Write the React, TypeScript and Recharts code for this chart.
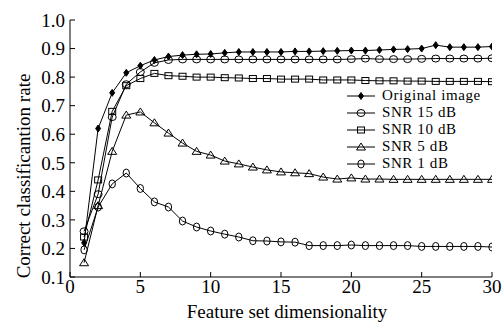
import { Legend, Line, LineChart, XAxis, YAxis } from "recharts";

const dims = [
  1, 2, 3, 4, 5, 6, 7, 8, 9, 10, 11, 12, 13, 14, 15, 16, 17, 18, 19, 20, 21, 22, 23, 24, 25, 26, 27, 28, 29, 30,
];

const original = [
  0.22, 0.62, 0.745, 0.815, 0.84, 0.86, 0.872, 0.877, 0.88, 0.881, 0.885, 0.888, 0.888, 0.888, 0.888, 0.89, 0.89,
  0.891, 0.892, 0.893, 0.893, 0.895, 0.897, 0.898, 0.9, 0.912, 0.905, 0.905, 0.905, 0.907,
];
const snr15 = [
  0.26, 0.39, 0.66, 0.775, 0.818, 0.85, 0.86, 0.862, 0.862, 0.862, 0.862, 0.862, 0.862, 0.862, 0.862, 0.862, 0.862,
  0.862, 0.862, 0.863, 0.865, 0.863, 0.863, 0.863, 0.864, 0.865, 0.865, 0.865, 0.865, 0.866,
];
const snr10 = [
  0.24, 0.44, 0.68, 0.77, 0.795, 0.813, 0.805, 0.803, 0.8, 0.8, 0.798, 0.797, 0.795, 0.795, 0.793, 0.793, 0.793,
  0.79, 0.79, 0.79, 0.788, 0.787, 0.787, 0.786, 0.786, 0.785, 0.785, 0.785, 0.785, 0.784,
];
const snr5 = [
  0.15, 0.35, 0.54, 0.667, 0.678, 0.64, 0.604, 0.569, 0.54, 0.527, 0.506, 0.496, 0.485, 0.475, 0.468, 0.465, 0.462,
  0.45, 0.443, 0.447, 0.443, 0.443, 0.442, 0.442, 0.442, 0.442, 0.442, 0.442, 0.442, 0.442,
];
const snr1 = [
  0.195, 0.345, 0.426, 0.464, 0.41, 0.363, 0.345, 0.296, 0.275, 0.261, 0.25, 0.24, 0.227, 0.226, 0.223, 0.222, 0.21,
  0.21, 0.21, 0.212, 0.21, 0.21, 0.21, 0.21, 0.207, 0.207, 0.207, 0.207, 0.207, 0.205,
];

const xTicks = [0, 5, 10, 15, 20, 25, 30];
const yTicks = [0.1, 0.2, 0.3, 0.4, 0.5, 0.6, 0.7, 0.8, 0.9, 1.0];

const series = [
  { key: "original", name: "Original image", values: original, shape: "star" },
  { key: "snr15", name: "SNR 15 dB", values: snr15, shape: "circle" },
  { key: "snr10", name: "SNR 10 dB", values: snr10, shape: "square" },
  { key: "snr5", name: "SNR 5 dB", values: snr5, shape: "triangle" },
  { key: "snr1", name: "SNR 1 dB", values: snr1, shape: "oval" },
];

const data = dims.map((d, i) => {
  const row: Record<string, number> = { dim: d };
  series.forEach((s) => {
    row[s.key] = s.values[i];
  });
  return row;
});

const FONT = '"Liberation Serif", "Times New Roman", serif';

function Marker({ shape, cx, cy }: { shape: string; cx: number; cy: number }) {
  if (cx == null || cy == null) return null;
  const st = { fill: "none", stroke: "#000", strokeWidth: 1 };
  switch (shape) {
    case "star":
      return (
        <path d={`M${cx},${cy - 3.5}L${cx + 2.5},${cy}L${cx},${cy + 3.5}L${cx - 2.5},${cy}Z`} fill="#000" stroke="#000" />
      );
    case "circle":
      return <ellipse cx={cx} cy={cy} rx={4} ry={3.5} {...st} />;
    case "square":
      return <rect x={cx - 3.5} y={cy - 3} width={7} height={6} {...st} />;
    case "triangle":
      return <path d={`M${cx},${cy - 4}L${cx + 4.5},${cy + 3}L${cx - 4.5},${cy + 3}Z`} {...st} />;
    default:
      return <ellipse cx={cx} cy={cy} rx={3.2} ry={4} {...st} />;
  }
}

const renderLegend = () => (
  <div style={{ fontFamily: FONT, fontSize: 15, color: "#000", lineHeight: "17px" }}>
    {series.map((s) => (
      <div key={s.key} style={{ display: "flex", alignItems: "center", height: 17, whiteSpace: "nowrap" }}>
        <svg width={30} height={12} style={{ display: "block" }}>
          <line x1={1} y1={6} x2={29} y2={6} stroke="#000" strokeWidth={1} />
          <Marker shape={s.shape} cx={15} cy={6} />
        </svg>
        <span style={{ marginLeft: 6, letterSpacing: 0.6 }}>{s.name}</span>
      </div>
    ))}
  </div>
);

const tickStyle = { fontFamily: FONT, fontSize: 19, fill: "#000" };

export default function App() {
  return (
    <div style={{ position: "fixed", left: 0, top: 0, width: 502, height: 323, background: "#fff" }}>
      <LineChart width={502} height={323} data={data} margin={{ top: 20, right: 10, bottom: 6, left: 20 }}>
        <XAxis
          dataKey="dim"
          type="number"
          domain={[0, 30]}
          ticks={xTicks}
          allowDataOverflow
          height={40}
          stroke="#000"
          tickSize={-5}
          tickMargin={8}
          tick={tickStyle}
          label={{
            content: ({ viewBox }: any) => (
              <text
                x={viewBox.x + viewBox.width / 2 + 6}
                y={viewBox.y + 41}
                textAnchor="middle"
                style={{ fontFamily: FONT, fontSize: 19, fill: "#000" }}
              >
                Feature set dimensionality
              </text>
            ),
          }}
        />
        <XAxis
          xAxisId="top"
          dataKey="dim"
          type="number"
          orientation="top"
          domain={[0, 30]}
          ticks={xTicks}
          height={0}
          stroke="#000"
          tickSize={-5}
          tick={false}
        />
        <YAxis
          type="number"
          domain={[0.1, 1.0]}
          ticks={yTicks}
          width={50}
          stroke="#000"
          tickSize={-5}
          tickMargin={10}
          tick={tickStyle}
          tickFormatter={(v: number) => v.toFixed(1)}
          label={{
            content: () => (
              <text
                x={30}
                y={176}
                transform={`rotate(-90, 30, 176)`}
                textAnchor="middle"
                style={{ fontFamily: FONT, fontSize: 19, fill: "#000" }}
              >
                Correct classificantion rate
              </text>
            ),
          }}
        />
        <YAxis
          yAxisId="right"
          orientation="right"
          type="number"
          domain={[0.1, 1.0]}
          ticks={yTicks}
          width={0}
          stroke="#000"
          tickSize={-5}
          tick={false}
        />
        <Legend
          layout="vertical"
          align="center"
          verticalAlign="middle"
          content={renderLegend}
          wrapperStyle={{ left: 346, top: 87, width: "auto" }}
        />
        {series.map((s) => (
          <Line
            key={s.key}
            dataKey={s.key}
            name={s.name}
            type="linear"
            stroke="#000"
            strokeWidth={1}
            isAnimationActive={false}
            dot={(p: any) => <Marker key={`${s.key}-${p.index}`} shape={s.shape} cx={p.cx} cy={p.cy} />}
          />
        ))}
      </LineChart>
    </div>
  );
}
